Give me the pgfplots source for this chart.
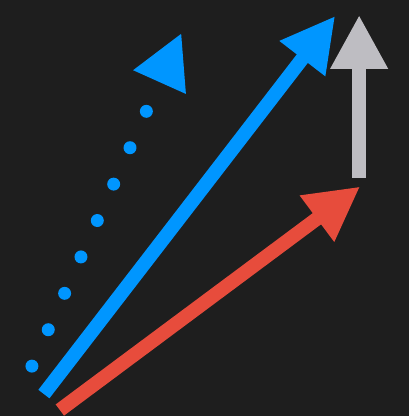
\documentclass[border=0pt]{standalone}
\usepackage{pgfplots}
\pgfplotsset{compat=1.18}
\usetikzlibrary{arrows.meta}
\definecolor{bg}{HTML}{1E1E1E}
\definecolor{vblue}{HTML}{0096FF}
\definecolor{vred}{HTML}{E74C3C}
\definecolor{vgrey}{HTML}{BEBDC2}
\begin{document}
\begin{tikzpicture}
\begin{axis}[
  hide axis, scale only axis,
  width=205pt, height=208.5pt,
  xmin=0, xmax=410, ymin=0, ymax=417,
  y dir=reverse, clip=false]
\fill[bg] (rel axis cs:0,0) rectangle (rel axis cs:1,1);
% dotted blue vector
\addplot[vblue, line width=6.5pt, line cap=round, dash pattern=on 0pt off 20pt,
  -{Triangle[length=27pt,width=27pt]}] coordinates {(32,367) (182,33)};
% solid blue vector
\addplot[vblue, line width=7pt, -{Triangle[length=27pt,width=27pt]}] coordinates {(44,395) (336,16)};
% red vector
\addplot[vred, line width=7pt, -{Triangle[length=27pt,width=27pt]}] coordinates {(60,411) (361,187)};
% grey vector
\addplot[vgrey, line width=7pt, -{Triangle[length=27pt,width=27pt]}] coordinates {(360,178) (360,15)};
\end{axis}
\end{tikzpicture}
\end{document}
